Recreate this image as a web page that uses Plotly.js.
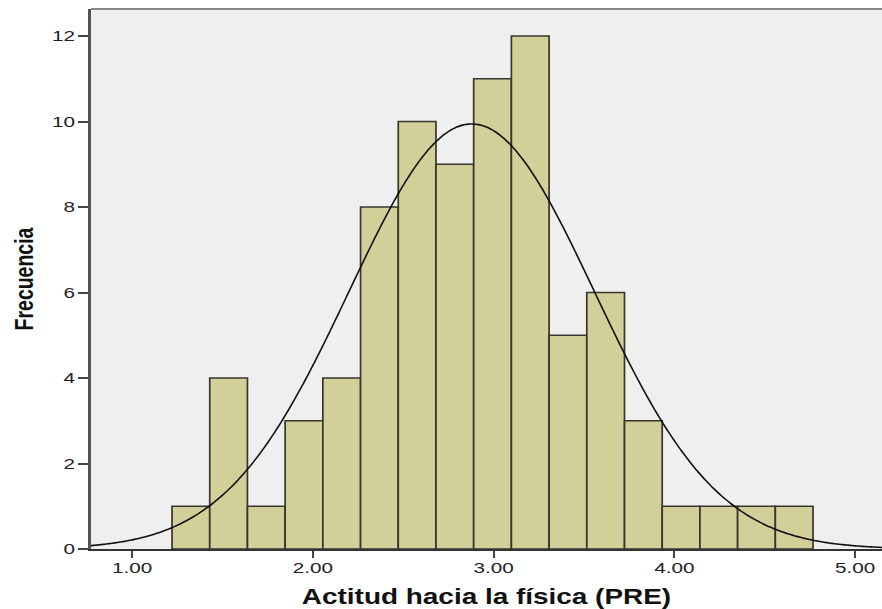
<!DOCTYPE html>
<html>
<head>
<meta charset="utf-8">
<script src="https://cdn.plot.ly/plotly-3.0.1.min.js"></script>
<style>
  html, body { margin: 0; padding: 0; background: #ffffff; }
  #chart { width: 882px; height: 609px; }
</style>
</head>
<body>
<div id="chart"></div>
<script>
// Histogram counts for "Actitud hacia la física (PRE)"
const binStart = 1.2213;
const binWidth = 0.2086;
const counts = [1, 4, 1, 3, 4, 8, 10, 9, 11, 12, 5, 6, 3, 1, 1, 1, 1];

// Normal fit parameters (mean, std. deviation, N)
const fitMean = 2.879;
const fitSd = 0.678;
const fitN = 81;

// Axis ticks
const xTickVals = [1, 2, 3, 4, 5];
const xTickText = ['1.00', '2.00', '3.00', '4.00', '5.00'];
const yTickVals = [0, 2, 4, 6, 8, 10, 12];
const yTickText = ['0', '2', '4', '6', '8', '10', '12'];

const xMin = 0.773, xMax = 5.149;

const barX = counts.map((_, i) => binStart + binWidth * (i + 0.5));

// Normal curve scaled to frequency
const curveX = [], curveY = [];
const steps = 300;
for (let k = 0; k <= steps; k++) {
  const x = xMin + (xMax - xMin) * k / steps;
  const z = (x - fitMean) / fitSd;
  curveX.push(x);
  curveY.push(fitN * binWidth / (fitSd * Math.sqrt(2 * Math.PI)) * Math.exp(-0.5 * z * z));
}

const traces = [
  {
    type: 'bar',
    x: barX,
    y: counts,
    width: binWidth,
    marker: { color: '#d3cf98', line: { color: '#36362e', width: 1.7 } },
    hoverinfo: 'x+y'
  },
  {
    type: 'scatter',
    mode: 'lines',
    x: curveX,
    y: curveY,
    line: { color: '#111111', width: 1.6, shape: 'spline' },
    hoverinfo: 'skip'
  }
];

const layout = {
  width: 882,
  height: 609,
  margin: { l: 91, r: 0, t: 9, b: 60 },
  paper_bgcolor: '#ffffff',
  plot_bgcolor: '#efefef',
  showlegend: false,
  bargap: 0,
  xaxis: {
    range: [xMin, xMax],
    tickvals: xTickVals,
    ticktext: xTickText,
    ticks: 'outside',
    ticklen: 7,
    tickwidth: 2,
    tickcolor: '#444444',
    showgrid: false,
    zeroline: false,
    showline: true,
    linecolor: '#333333',
    linewidth: 2,
    tickfont: { family: 'Liberation Sans, Arial, sans-serif', size: 15, color: '#222222' },
    title: {
      text: 'Actitud hacia la física (PRE)',
      font: { family: 'Liberation Sans, Arial, sans-serif', size: 22, color: '#111111', weight: 'bold' },
      standoff: 12
    }
  },
  yaxis: {
    range: [0, 12.632],
    tickvals: yTickVals,
    ticktext: yTickText,
    ticks: 'outside',
    ticklen: 10,
    tickwidth: 2,
    tickcolor: '#444444',
    showgrid: false,
    zeroline: false,
    showline: true,
    linecolor: '#555555',
    linewidth: 3,
    tickfont: { family: 'Liberation Sans, Arial, sans-serif', size: 15, color: '#222222' },
    title: {
      text: 'Frecuencia',
      font: { family: 'Liberation Sans, Arial, sans-serif', size: 25, color: '#111111', weight: 'bold' },
      standoff: 18
    }
  },
  shapes: [
    {
      type: 'line', xref: 'paper', yref: 'paper',
      x0: 0, x1: 1, y0: 1, y1: 1,
      line: { color: '#888888', width: 2 }
    }
  ]
};

// Stretch a text element along its own baseline around its anchor point,
// with an optional vertical shift in its local frame
function stretch(el, sx, dy) {
  const x = parseFloat(el.getAttribute('x')) || 0;
  const y = parseFloat(el.getAttribute('y')) || 0;
  const t = el.getAttribute('transform') || '';
  el.setAttribute('transform',
    t + ' translate(' + x + ',' + (y + (dy || 0)) + ') scale(' + sx + ',1) translate(' + (-x) + ',' + (-y) + ')');
}

Plotly.newPlot('chart', traces, layout, { displayModeBar: false, staticPlot: true }).then(gd => {
  gd.querySelectorAll('.xtick text').forEach(el => stretch(el, 1.38, -3));
  gd.querySelectorAll('.ytick text').forEach(el => stretch(el, 1.38, 0));
  gd.querySelectorAll('.xtitle').forEach(el => stretch(el, 1.27, 0));
  gd.querySelectorAll('.ytitle').forEach(el => stretch(el, 0.78, 0));
});
</script>
</body>
</html>
